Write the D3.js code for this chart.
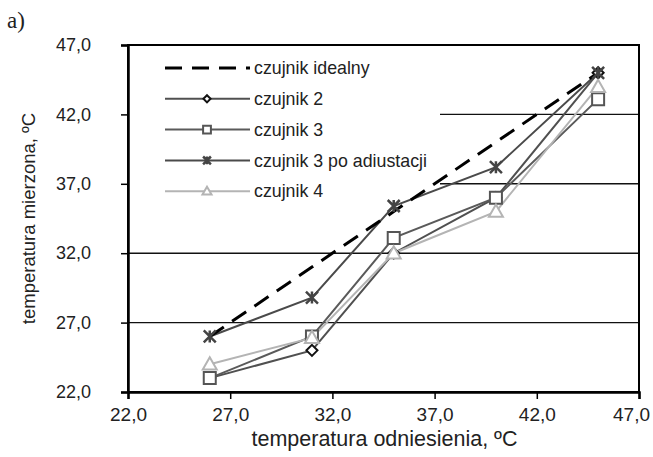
<!DOCTYPE html>
<html>
<head>
<meta charset="utf-8">
<script src="https://cdn.jsdelivr.net/npm/d3@7"></script>
<style>
  body { margin: 0; background: #fff; }
  text { font-family: "Liberation Sans", Arial, sans-serif; fill: #222; }
</style>
</head>
<body>
<div id="chart"></div>
<script>
// reference temperature (x) and readings of each sensor (y)
const xRef = [26, 31, 35, 40, 45]
const ideal = [26, 31, 35, 40, 45]
const czujnik2 = [23.0, 25.0, 32.0, 36.0, 45.0]
const czujnik3 = [23.0, 26.0, 33.1, 36.0, 43.1]
const czujnik3adj = [26.0, 28.8, 35.4, 38.2, 45.0]
const czujnik4 = [24.0, 25.9, 32.0, 35.0, 44.0]
const ticks = [22, 27, 32, 37, 42, 47]

const seriesNames = ['czujnik idealny', 'czujnik 2', 'czujnik 3', 'czujnik 3 po adiustacji', 'czujnik 4']

let width = 653, height = 457
let margin = {left: 128, right: 14, top: 45, bottom: 65}

let svg = d3.select('#chart')
	.append('svg')
	.attr('width', width)
	.attr('height', height)

let x = d3.scaleLinear().domain([22, 47]).range([margin.left, width - margin.right])
let y = d3.scaleLinear().domain([22, 47]).range([height - margin.bottom, margin.top])

let fmt = d => d3.format('.1f')(d).replace('.', ',')

// horizontal grid lines
svg.append('g')
	.selectAll('line')
	.data(ticks.slice(1, -1))
	.enter()
		.append('line')
		.attr('x1', x(22)).attr('x2', x(47))
		.attr('y1', d => y(d)).attr('y2', d => y(d))
		.attr('stroke', '#111')
		.attr('stroke-width', 1.4)

// legend background hides the upper grid lines
svg.append('rect')
	.attr('x', x(22) + 1).attr('y', y(47) + 1)
	.attr('width', 311).attr('height', 155)
	.attr('fill', '#fff')

// frame
svg.append('rect')
	.attr('x', x(22)).attr('y', y(47))
	.attr('width', x(47) - x(22)).attr('height', y(22) - y(47))
	.attr('fill', 'none')
	.attr('stroke', '#000')
	.attr('stroke-width', 2)

let xAxis = svg.append('g')
	.attr('transform', `translate(0,${y(22)})`)
	.call(d3.axisBottom(x).tickValues(ticks).tickFormat(fmt).tickSize(7).tickPadding(9))
let yAxis = svg.append('g')
	.attr('transform', `translate(${x(22)},0)`)
	.call(d3.axisLeft(y).tickValues(ticks).tickFormat(fmt).tickSize(7).tickPadding(30))

;[xAxis, yAxis].forEach(a => {
	a.select('.domain').attr('stroke', '#000').attr('stroke-width', 2.5)
	a.selectAll('.tick line').attr('stroke', '#000').attr('stroke-width', 1.5)
	a.selectAll('.tick text')
		.attr('font-size', 18)
		.attr('fill', '#222')
		.style('font-family', '"Liberation Sans", Arial, sans-serif')
})
xAxis.selectAll('.tick text').attr('font-size', 19)
// keep the last label inside the page
xAxis.selectAll('.tick text').filter(d => d === 47).attr('dx', -8)

// axis titles
svg.append('text')
	.attr('x', (x(22) + x(47)) / 2 + 1)
	.attr('y', 446)
	.attr('text-anchor', 'middle')
	.attr('font-size', 21.5)
	.text('temperatura odniesienia, ºC')

svg.append('text')
	.attr('transform', `translate(35,${(y(22) + y(47)) / 2}) rotate(-90)`)
	.attr('text-anchor', 'middle')
	.attr('font-size', 18.5)
	.text('temperatura mierzona, ºC')

svg.append('text')
	.attr('x', 7).attr('y', 28)
	.attr('font-size', 23)
	.style('font-family', '"Liberation Serif", "Times New Roman", serif')
	.text('a)')

// marker shapes
let star = s => `M${-s},${-s}L${s},${s}M${-s},${s}L${s},${-s}M0,${-s}L0,${s}`
let diamond = s => `M0,${-s}L${s},0L0,${s}L${-s},0Z`
let square = s => `M${-s},${-s}H${s}V${s}H${-s}Z`
let triangle = s => `M0,${-s}L${s},${s * 0.75}H${-s}Z`

let series = [
	{name: seriesNames[0], values: ideal, color: '#000', width: 3, dash: '17,10', marker: null},
	{name: seriesNames[1], values: czujnik2, color: '#505050', width: 2, marker: diamond, size: 5.5, mcolor: '#111', mwidth: 2},
	{name: seriesNames[2], values: czujnik3, color: '#5a5a5a', width: 2, marker: square, size: 6, mcolor: '#555', mwidth: 2},
	{name: seriesNames[3], values: czujnik3adj, color: '#4a4a4a', width: 2, marker: star, size: 6, mcolor: '#444', mwidth: 2.5},
	{name: seriesNames[4], values: czujnik4, color: '#b4b4b4', width: 2, marker: triangle, size: 7, mcolor: '#b4b4b4', mwidth: 2}
]

let line = d3.line()
	.x((d, i) => x(xRef[i]))
	.y(d => y(d))

let drawOrder = [1, 2, 4, 3, 0]
drawOrder.forEach(k => {
	let s = series[k]
	svg.append('path')
		.attr('d', line(s.values))
		.attr('fill', 'none')
		.attr('stroke', s.color)
		.attr('stroke-width', s.width)
		.attr('stroke-dasharray', s.dash || null)
})

drawOrder.forEach(k => {
	let s = series[k]
	if (!s.marker) return
	svg.append('g')
		.selectAll('path')
		.data(s.values)
		.enter()
			.append('path')
			.attr('transform', (d, i) => `translate(${x(xRef[i])},${y(d)})`)
			.attr('d', s.marker(s.size))
			.attr('fill', '#fff')
			.attr('stroke', s.mcolor)
			.attr('stroke-width', s.mwidth)
})

// legend
let legend = svg.append('g')
	.selectAll('g')
	.data(series)
	.enter()
		.append('g')
		.attr('transform', (d, i) => `translate(0,${68 + i * 30.8})`)

legend.append('line')
	.attr('x1', 165).attr('x2', 250)
	.attr('stroke', d => d.color)
	.attr('stroke-width', d => d.width)
	.attr('stroke-dasharray', d => d.dash || null)

legend.filter(d => d.marker)
	.append('path')
	.attr('transform', 'translate(207,0)')
	.attr('d', d => d.marker(d.size * 0.65))
	.attr('fill', '#fff')
	.attr('stroke', d => d.mcolor)
	.attr('stroke-width', d => d.mwidth)

legend.append('text')
	.attr('x', 254)
	.attr('dy', '0.35em')
	.attr('font-size', 17.8)
	.text(d => d.name)
</script>
</body>
</html>
